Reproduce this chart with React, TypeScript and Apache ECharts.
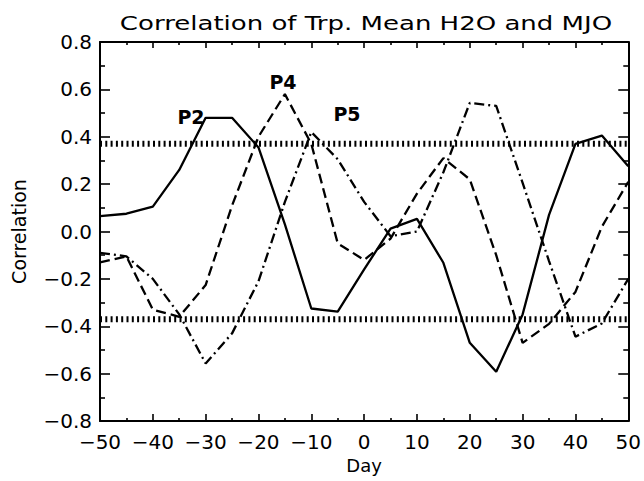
import React, { useEffect, useRef } from "react";
import * as echarts from "echarts";

const days = [-50, -45, -40, -35, -30, -25, -20, -15, -10, -5, 0, 5, 10, 15, 20, 25, 30, 35, 40, 45, 50];
const p2Solid = [0.065, 0.075, 0.105, 0.26, 0.48, 0.48, 0.355, 0.03, -0.325, -0.338, -0.16, 0.012, 0.053, -0.132, -0.47, -0.592, -0.35, 0.07, 0.37, 0.405, 0.275];
const p4Dashed = [-0.13, -0.105, -0.33, -0.36, -0.226, 0.11, 0.4, 0.58, 0.37, -0.05, -0.12, -0.03, 0.16, 0.31, 0.22, -0.1, -0.47, -0.39, -0.255, 0.02, 0.21];
const p5DashDot = [-0.09, -0.105, -0.2, -0.35, -0.557, -0.43, -0.21, 0.125, 0.42, 0.305, 0.125, -0.02, 0.0, 0.25, 0.543, 0.53, 0.205, -0.125, -0.444, -0.388, -0.2];
const significance = [0.37, -0.37];
const labels = [
  { text: "P2", x: 191, y: 117 },
  { text: "P4", x: 283, y: 82 },
  { text: "P5", x: 347, y: 114 },
];
const titleText = "Correlation of Trp. Mean H2O and MJO";

const FONT = "DejaVu Sans";
const fmt = (v: number, d: number) => {
  const s = v.toFixed(d);
  return s.startsWith("-") ? "\u2212" + s.slice(1) : s;
};

export default function App() {
  const ref = useRef<HTMLDivElement>(null);
  useEffect(() => {
    if (!ref.current) return;
    const chart = echarts.init(ref.current, null, { renderer: "svg" });
    const axisLine = { show: true, onZero: false, lineStyle: { color: "#000", width: 2 } };
    const tickStyle = { color: "#000", width: 1.6 };
    const mk = (vals: number[]) => days.map((d, i) => [d, vals[i]]);
    const sigSeries = significance.map((v) => ({
      type: "line",
      data: [[-50, v], [50, v]],
      symbol: "none",
      silent: true,
      lineStyle: { color: "#000", width: 6, type: [2, 3.3] },
    }));
    chart.setOption({
      animation: false,
      backgroundColor: "#fff",
      grid: { left: 100, right: 15, top: 42, bottom: 60 },
      xAxis: [
        {
          type: "value",
          min: -50,
          max: 50,
          interval: 10,
          position: "bottom",
          name: "Day",
          nameLocation: "middle",
          nameGap: 33,
          nameTextStyle: { fontFamily: FONT, fontSize: 18, color: "#000" },
          axisLine,
          axisTick: { show: true, inside: true, length: 7, lineStyle: tickStyle },
          minorTick: { show: true, splitNumber: 2, length: 3, lineStyle: tickStyle },
          splitLine: { show: false },
          axisLabel: { fontFamily: FONT, fontSize: 20, color: "#000", margin: 11, formatter: (v: number) => fmt(v, 0) },
        },
        {
          type: "value",
          min: -50,
          max: 50,
          interval: 10,
          position: "top",
          axisLine,
          axisTick: { show: true, inside: true, length: 6, lineStyle: tickStyle },
          minorTick: { show: true, splitNumber: 2, length: 3, lineStyle: tickStyle },
          splitLine: { show: false },
          axisLabel: { show: false },
        },
      ],
      yAxis: [
        {
          type: "value",
          min: -0.8,
          max: 0.8,
          interval: 0.2,
          position: "left",
          name: "Correlation",
          nameLocation: "middle",
          nameGap: 72,
          nameRotate: 90,
          nameTextStyle: { fontFamily: FONT, fontSize: 19, color: "#000" },
          axisLine,
          axisTick: { show: true, inside: true, length: 10, lineStyle: tickStyle },
          minorTick: { show: true, splitNumber: 2, length: 5, lineStyle: tickStyle },
          splitLine: { show: false },
          axisLabel: { fontFamily: FONT, fontSize: 20, color: "#000", margin: 8, formatter: (v: number) => fmt(v, 1) },
        },
        {
          type: "value",
          min: -0.8,
          max: 0.8,
          interval: 0.2,
          position: "right",
          axisLine,
          axisTick: { show: true, inside: true, length: 10, lineStyle: tickStyle },
          minorTick: { show: true, splitNumber: 2, length: 5, lineStyle: tickStyle },
          splitLine: { show: false },
          axisLabel: { show: false },
        },
      ],
      series: [
        {
          name: "P2",
          type: "line",
          data: mk(p2Solid),
          symbol: "none",
          lineStyle: { color: "#000", width: 2.3, type: "solid" },
        },
        {
          name: "P4",
          type: "line",
          data: mk(p4Dashed),
          symbol: "none",
          lineStyle: { color: "#000", width: 2.3, type: [10, 5] },
        },
        {
          name: "P5",
          type: "line",
          data: mk(p5DashDot),
          symbol: "none",
          lineStyle: { color: "#000", width: 2.3, type: [10, 4, 2, 4] },
        },
        ...sigSeries,
      ],
      graphic: [
        {
          type: "text",
          x: 366,
          y: 23,
          scaleX: 1.3,
          style: {
            text: titleText,
            fontFamily: FONT,
            fontSize: 20,
            fill: "#000",
            align: "center",
            verticalAlign: "middle",
          },
        },
        ...labels.map((l) => ({
          type: "text",
          x: l.x,
          y: l.y,
          style: {
            text: l.text,
            fontFamily: FONT,
            fontSize: 19,
            fontWeight: "bold",
            fill: "#000",
            align: "center",
            verticalAlign: "middle",
          },
        })),
      ],
    });
    return () => chart.dispose();
  }, []);
  return <div ref={ref} style={{ width: 644, height: 481, position: "absolute", left: 0, top: 0 }} />;
}
